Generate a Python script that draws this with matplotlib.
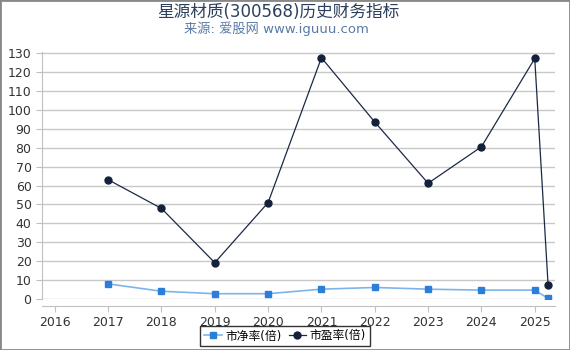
import matplotlib.pyplot as plt
import numpy as np

plt.rcParams['font.family'] = ['DejaVu Sans', 'Noto Sans CJK SC']

# data
years = [2017, 2018, 2019, 2020, 2021, 2022, 2023, 2024, 2025, 2025.25]
pb = [8.0, 4.1, 2.8, 2.8, 5.2, 6.1, 5.2, 4.7, 4.7, 0.3]
pe = [63.1, 47.9, 19.2, 51.0, 127.6, 93.6, 61.2, 80.5, 127.2, 7.5]
xticks = list(range(2016, 2026))
yticks = list(range(0, 131, 10))

fig = plt.figure(figsize=(5.7, 3.5), dpi=100)
ax = fig.add_axes([0.0737, 0.1457, 0.9, 0.705])

ax.plot(years, pb, color='#7fb4ea', lw=1.2, marker='s', ms=5,
        mfc='#2b7fd9', mec='#2b7fd9', label='市净率(倍)', zorder=3)
ax.plot(years, pe, color='#1b2a44', lw=0.9, marker='o', ms=5,
        mfc='#14213a', mec='#14213a', label='市盈率(倍)', zorder=4)

ax.set_xlim(2015.76, 2025.38)
ax.set_ylim(0, 130.5)
ax.set_xticks(xticks)
ax.set_yticks(yticks)
ax.grid(axis='y', color='#c8c8c8', lw=1)
ax.set_axisbelow(True)
for s in ['top', 'right']:
    ax.spines[s].set_visible(False)
ax.spines['left'].set_color('#c0c0c0')
ax.spines['bottom'].set_color('#c0c0c0')
ax.spines['bottom'].set_position(('outward', 5))
ax.tick_params(axis='both', colors='#c0c0c0', labelcolor='#333333',
               labelsize=9, length=4)

fig.text(0.488, 0.965, '星源材质(300568)历史财务指标', ha='center', va='center',
         fontsize=12, color='#2b3f5c', family=['DejaVu Sans', 'Noto Sans CJK SC'])
fig.text(0.485, 0.918, '来源: 爱股网 www.iguuu.com', ha='center', va='center',
         fontsize=9.5, color='#5a7aa5', family=['DejaVu Sans', 'Noto Sans CJK SC'])

leg = fig.legend(loc='center', bbox_to_anchor=(0.5, 0.04), ncol=2,
                 frameon=True, fancybox=False, edgecolor='black',
                 handlelength=1.5, handletextpad=0.3,
                 columnspacing=0.6, borderpad=0.3,
                 prop={'family': ['DejaVu Sans', 'Noto Sans CJK SC'], 'size': 8.5})
leg.get_frame().set_linewidth(1)

fig.patches.append(plt.Rectangle((0, 0), 1, 1, transform=fig.transFigure,
                                 fill=False, edgecolor='#888888', lw=2))

fig.savefig('out.png', dpi=100)
